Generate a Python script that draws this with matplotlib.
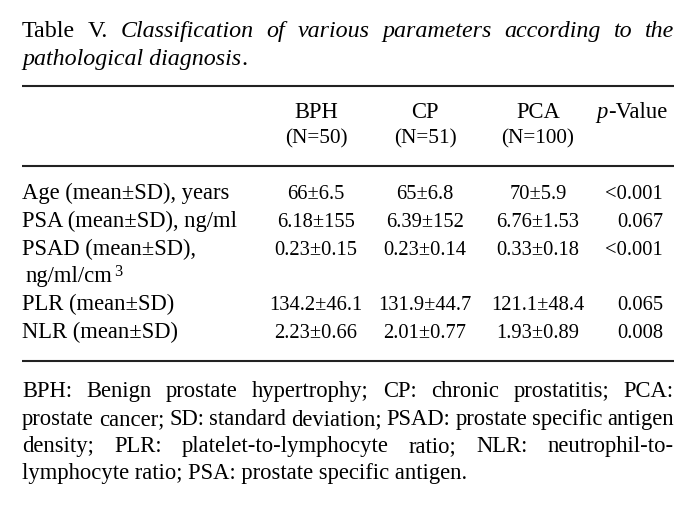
import matplotlib.pyplot as plt

plt.rcParams['font.family'] = ['Liberation Serif', 'DejaVu Serif']

# table content
col_heads = ['BPH', 'CP', 'PCA']
col_ns = ['(N=50)', '(N=51)', '(N=100)']
row_labels = ['Age (mean\u00b1SD), years', 'PSA (mean\u00b1SD), ng/ml', 'PSAD (mean\u00b1SD),',
              None, 'PLR (mean\u00b1SD)', 'NLR (mean\u00b1SD)']
bph = ['66\u00b16.5', '6.18\u00b1155', '0.23\u00b10.15', None, '134.2\u00b146.1', '2.23\u00b10.66']
cp = ['65\u00b16.8', '6.39\u00b1152', '0.23\u00b10.14', None, '131.9\u00b144.7', '2.01\u00b10.77']
pca = ['70\u00b15.9', '6.76\u00b11.53', '0.33\u00b10.18', None, '121.1\u00b148.4', '1.93\u00b10.89']
pvals = ['<0.001', '0.067', '<0.001', None, '0.065', '0.008']

title1 = [('Table', 'normal'), ('V.', 'normal'), ('Classification', 'italic'), ('of', 'italic'),
          ('various', 'italic'), ('parameters', 'italic'), ('according', 'italic'),
          ('to', 'italic'), ('the', 'italic')]
foot_lines = ['BPH: Benign prostate hypertrophy; CP: chronic prostatitis; PCA:',
              'prostate cancer; SD: standard deviation; PSAD: prostate specific antigen',
              'density; PLR: platelet-to-lymphocyte ratio; NLR: neutrophil-to-',
              'lymphocyte ratio; PSA: prostate specific antigen.']

FS = 16.3     # labels, footnote
TS = 17.3     # title
NS = 14.8     # numbers
X0, X1 = 22, 674
col_x = [316, 425, 538]
p_right = 663

fig = plt.figure(figsize=(6.99, 5.13), dpi=100)
ax = fig.add_axes([0, 0, 1, 1])
ax.set_xlim(0, 699)
ax.set_ylim(513, 0)
ax.axis('off')
renderer = fig.canvas.get_renderer()


def width_of(t):
    return t.get_window_extent(renderer=renderer).width


def justify(words, y, x0=X0, x1=X1, fs=FS):
    # words: list of (text, style); spread across x0..x1
    texts = [ax.text(0, y, w, fontsize=fs, style=s, va='baseline') for w, s in words]
    widths = [width_of(t) for t in texts]
    gap = (x1 - x0 - sum(widths)) / (len(texts) - 1)
    if gap < 3:
        for t in texts:
            t.remove()
        return justify(words, y, x0, x1, fs - 0.3)
    x = x0
    for t, w in zip(texts, widths):
        t.set_x(x)
        x += w + gap


# title
justify(title1, 37, fs=TS)
t = ax.text(X0, 65, 'pathological diagnosis', fontsize=TS, style='italic', va='baseline')
ax.text(X0 + width_of(t), 65, '.', fontsize=TS, va='baseline')

# rules
for y in [86, 166, 361]:
    ax.plot([X0, X1], [y, y], color='#222222', lw=1.5, solid_capstyle='butt')

# header
for x, h, n in zip(col_x, col_heads, col_ns):
    ax.text(x, 118, h, fontsize=FS, ha='center', va='baseline')
    ax.text(x, 143, n, fontsize=NS + 0.5, ha='center', va='baseline')
tp = ax.text(0, 118, 'p', fontsize=FS, style='italic', va='baseline')
tv = ax.text(p_right + 4, 118, '-Value', fontsize=FS, ha='right', va='baseline')
tp.set_x(p_right + 4 - width_of(tv) - width_of(tp))

# body
row_y = [199, 227, 255, 282, 310, 338]
for y, lab, a, b, c, p in zip(row_y, row_labels, bph, cp, pca, pvals):
    if lab is None:
        continue
    ax.text(X0, y, lab, fontsize=FS, va='baseline')
    for x, v in zip(col_x, [a, b, c]):
        ax.text(x, y, v, fontsize=NS, ha='center', va='baseline')
    ax.text(p_right, y, p, fontsize=NS, ha='right', va='baseline')
tu = ax.text(X0 + 4, row_y[3], 'ng/ml/cm', fontsize=FS, va='baseline')
ax.text(X0 + 4 + width_of(tu) + 1, row_y[3] - 6, '3', fontsize=FS * 0.72, va='baseline')

# footnote
foot_y = [397, 425, 452, 479]
for i, (line, y) in enumerate(zip(foot_lines, foot_y)):
    if i < len(foot_lines) - 1:
        justify([(w, 'normal') for w in line.split(' ')], y)
    else:
        ax.text(X0, y, line, fontsize=FS, va='baseline')

fig.savefig('out.png', dpi=100)
